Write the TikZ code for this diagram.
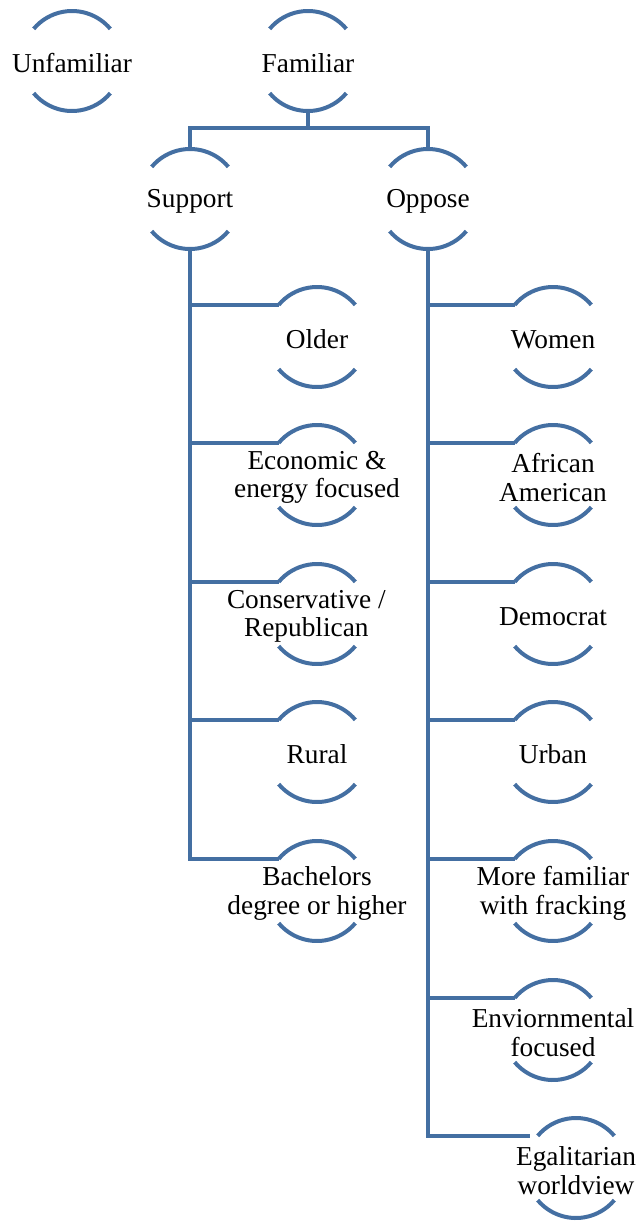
\documentclass[tikz,border=0pt]{standalone}
\usepackage{fontspec}
\setmainfont{Liberation Serif}
\definecolor{arcblue}{RGB}{68,111,162}
\begin{document}
\begin{tikzpicture}[x=0.75pt,y=0.75pt,
  lbl/.style={align=center,inner sep=0pt,yshift=-1.8pt,font=\fontsize{20.5}{21.5}\selectfont},
  arcline/.style={draw=arcblue,line width=3pt},
  conn/.style={draw=arcblue,line width=3.4pt}]
\useasboundingbox (0,0) rectangle (642,-1221);
\def\R{37.5pt}
% centres of the circle groups
\foreach \n/\x/\y in {unf/72/61, fam/308/61, sup/190/199, opp/428/199,
  older/317/337, econ/317/475, cons/317/614, rural/317/752, bach/317/891,
  women/553/337, afr/553/475, dem/553/614, urb/553/752, more/553/891,
  env/553/1030, egal/576/1168}{
  \coordinate (\n) at (\x,-\y);
  \coordinate (\n-L) at ([shift={(140:\R)}]\n);
  \coordinate (\n-T) at ([yshift=\R]\n);
  \coordinate (\n-B) at ([yshift=-\R]\n);
  \draw[arcline] ([shift={(40:\R)}]\n) arc[start angle=40,end angle=140,radius=\R];
  \draw[arcline] ([shift={(220:\R)}]\n) arc[start angle=220,end angle=320,radius=\R];
}
% labels
\node[lbl] (unf-t) at (unf) {Unfamiliar};
\node[lbl] (fam-t) at (fam) {Familiar};
\node[lbl] (sup-t) at (sup) {Support};
\node[lbl] (opp-t) at (opp) {Oppose};
\node[lbl] (older-t) at (older) {Older};
\node[lbl] (econ-t) at (econ) {Economic \&\\energy focused};
\node[lbl] (cons-t) at ([xshift=-8]cons) {Conservative /\\Republican};
\node[lbl] (rural-t) at (rural) {Rural};
\node[lbl] (bach-t) at (bach) {Bachelors\\degree or higher};
\node[lbl] (women-t) at (women) {Women};
\node[lbl] (afr-t) at (afr) {African\\American};
\node[lbl] (dem-t) at (dem) {Democrat};
\node[lbl] (urb-t) at (urb) {Urban};
\node[lbl] (more-t) at (more) {More familiar\\with fracking};
\node[lbl] (env-t) at (env) {Enviornmental\\focused};
\node[lbl] (egal-t) at (egal) {Egalitarian\\worldview};
% connectors
\coordinate (famj) at ([yshift=-12.75pt]fam-B);
\draw[conn] (fam-B) -- (famj);
\draw[conn] (sup-T) |- (famj) -| (opp-T);
\draw[conn] (sup-B) |- (bach-L);
\foreach \c in {older,econ,cons,rural}
  \draw[conn] (sup-B |- \c-L) -- (\c-L);
\draw[conn] (opp-B) |- ([xshift=-6]egal-L);
\foreach \c in {women,afr,dem,urb,more,env}
  \draw[conn] (opp-B |- \c-L) -- (\c-L);
\end{tikzpicture}
\end{document}
